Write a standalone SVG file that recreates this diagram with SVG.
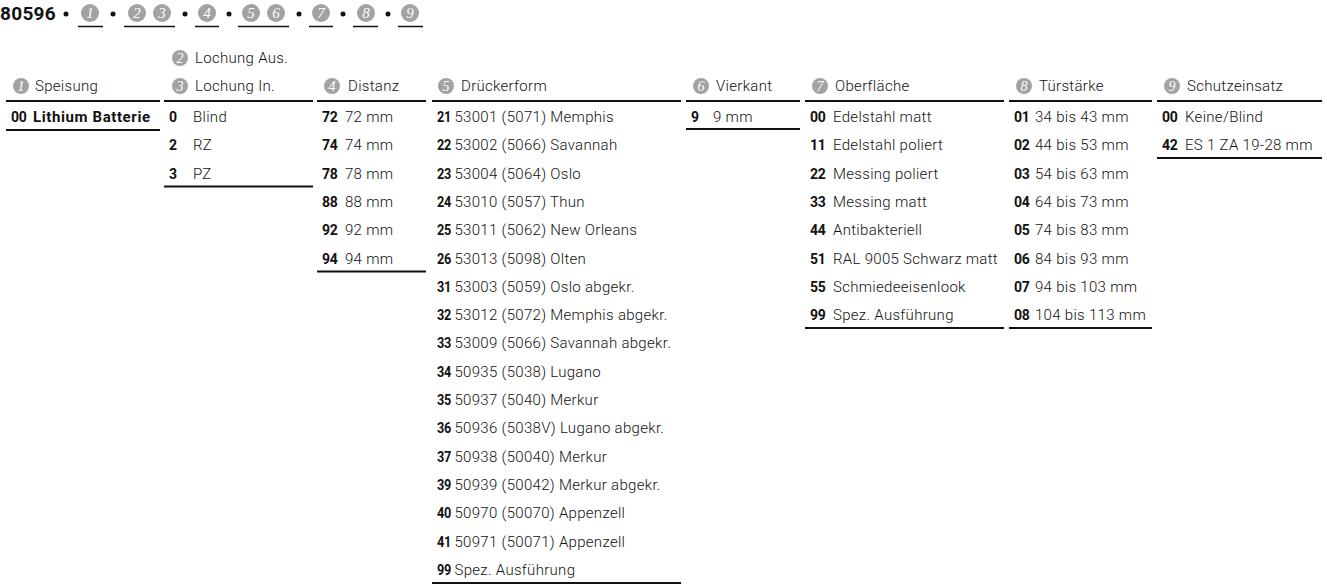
<svg xmlns="http://www.w3.org/2000/svg" width="1327" height="585" viewBox="0 0 1327 585">
<style>
text{font-family:Roboto,"Liberation Sans",sans-serif;font-size:14px;fill:#111}
.t{font-weight:300;font-size:15px;letter-spacing:0.3px}
.b{font-weight:700;letter-spacing:-0.3px}
.bl{font-weight:700;font-size:15px;letter-spacing:0.6px}
.big{font-weight:700;font-size:19px;letter-spacing:0.3px}
.c{fill:#a2a2a2}
.n{font-family:"Liberation Serif",serif;font-style:italic;font-size:14px;fill:#fff;text-anchor:middle}
.nt{font-family:"Liberation Serif",serif;font-style:italic;font-size:15px;fill:#fff;text-anchor:middle}
.r{stroke:#111;stroke-width:2;fill:none}
.u{stroke:#111;stroke-width:1.5;fill:none}
</style>
<rect width="1327" height="585" fill="#fff"/>
<g id="title">
<text class="big" x="0" y="20">80596</text>
<g class="dots">
<circle cx="66" cy="14" r="2.5" fill="#111"/><circle cx="113" cy="14" r="2.5" fill="#111"/><circle cx="185" cy="14" r="2.5" fill="#111"/><circle cx="229" cy="14" r="2.5" fill="#111"/><circle cx="299" cy="14" r="2.5" fill="#111"/><circle cx="343" cy="14" r="2.5" fill="#111"/><circle cx="388" cy="14" r="2.5" fill="#111"/>
</g>
<circle class="c" cx="90" cy="13" r="9"/><text class="nt" x="90" y="18">1</text>
<circle class="c" cx="137" cy="13" r="9"/><text class="nt" x="137" y="18">2</text>
<circle class="c" cx="162" cy="13" r="9"/><text class="nt" x="162" y="18">3</text>
<circle class="c" cx="207" cy="13" r="9"/><text class="nt" x="207" y="18">4</text>
<circle class="c" cx="251" cy="13" r="9"/><text class="nt" x="251" y="18">5</text>
<circle class="c" cx="276" cy="13" r="9"/><text class="nt" x="276" y="18">6</text>
<circle class="c" cx="321" cy="13" r="9"/><text class="nt" x="321" y="18">7</text>
<circle class="c" cx="366" cy="13" r="9"/><text class="nt" x="366" y="18">8</text>
<circle class="c" cx="410" cy="13" r="9"/><text class="nt" x="410" y="18">9</text>
<path class="u" d="M78 26.5H103M124 26.5H175M195 26.5H219M238 26.5H289M309 26.5H333M353 26.5H378M398 26.5H423"/>
</g>

<g id="col1">
<circle class="c" cx="21" cy="86" r="8"/><text class="n" x="21" y="91">1</text>
<text class="t" x="35" y="91">Speisung</text>
<path class="r" d="M6 101H160M6 130H160"/>
<text class="b" x="11" y="122">00</text><text class="bl" x="33" y="122">Lithium Batterie</text>
</g>

<g id="col2">
<circle class="c" cx="180" cy="58" r="8"/><text class="n" x="180" y="63">2</text>
<text class="t" x="195" y="63">Lochung Aus.</text>
<circle class="c" cx="180" cy="86" r="8"/><text class="n" x="180" y="91">3</text>
<text class="t" x="195" y="91">Lochung In.</text>
<path class="r" d="M164 101H313M164 186.5H313"/>
<text class="b" x="169" y="122">0</text><text class="t" x="193" y="122">Blind</text>
<text class="b" x="169" y="150.3">2</text><text class="t" x="193" y="150.3">RZ</text>
<text class="b" x="169" y="178.6">3</text><text class="t" x="193" y="178.6">PZ</text>
</g>

<g id="col3">
<circle class="c" cx="332" cy="86" r="8"/><text class="n" x="332" y="91">4</text>
<text class="t" x="348" y="91">Distanz</text>
<path class="r" d="M317 101H426M317 271.5H426"/>
<text class="b" x="322" y="122">72</text><text class="t" x="345" y="122">72 mm</text>
<text class="b" x="322" y="150.3">74</text><text class="t" x="345" y="150.3">74 mm</text>
<text class="b" x="322" y="178.6">78</text><text class="t" x="345" y="178.6">78 mm</text>
<text class="b" x="322" y="206.9">88</text><text class="t" x="345" y="206.9">88 mm</text>
<text class="b" x="322" y="235.2">92</text><text class="t" x="345" y="235.2">92 mm</text>
<text class="b" x="322" y="263.5">94</text><text class="t" x="345" y="263.5">94 mm</text>
</g>

<g id="col4">
<circle class="c" cx="446" cy="86" r="8"/><text class="n" x="446" y="91">5</text>
<text class="t" x="461" y="91">Drückerform</text>
<path class="r" d="M432 101H681M432 583H681"/>
<text class="b" x="437" y="122" textLength="14" lengthAdjust="spacingAndGlyphs">21</text><text class="t" x="454.5" y="122">53001 (5071) Memphis</text>
<text class="b" x="437" y="150.3" textLength="14" lengthAdjust="spacingAndGlyphs">22</text><text class="t" x="454.5" y="150.3">53002 (5066) Savannah</text>
<text class="b" x="437" y="178.6" textLength="14" lengthAdjust="spacingAndGlyphs">23</text><text class="t" x="454.5" y="178.6">53004 (5064) Oslo</text>
<text class="b" x="437" y="206.9" textLength="14" lengthAdjust="spacingAndGlyphs">24</text><text class="t" x="454.5" y="206.9">53010 (5057) Thun</text>
<text class="b" x="437" y="235.2" textLength="14" lengthAdjust="spacingAndGlyphs">25</text><text class="t" x="454.5" y="235.2">53011 (5062) New Orleans</text>
<text class="b" x="437" y="263.5" textLength="14" lengthAdjust="spacingAndGlyphs">26</text><text class="t" x="454.5" y="263.5">53013 (5098) Olten</text>
<text class="b" x="437" y="291.8" textLength="14" lengthAdjust="spacingAndGlyphs">31</text><text class="t" x="454.5" y="291.8">53003 (5059) Oslo abgekr.</text>
<text class="b" x="437" y="320.1" textLength="14" lengthAdjust="spacingAndGlyphs">32</text><text class="t" x="454.5" y="320.1">53012 (5072) Memphis abgekr.</text>
<text class="b" x="437" y="348.4" textLength="14" lengthAdjust="spacingAndGlyphs">33</text><text class="t" x="454.5" y="348.4">53009 (5066) Savannah abgekr.</text>
<text class="b" x="437" y="376.7" textLength="14" lengthAdjust="spacingAndGlyphs">34</text><text class="t" x="454.5" y="376.7">50935 (5038) Lugano</text>
<text class="b" x="437" y="405" textLength="14" lengthAdjust="spacingAndGlyphs">35</text><text class="t" x="454.5" y="405">50937 (5040) Merkur</text>
<text class="b" x="437" y="433.3" textLength="14" lengthAdjust="spacingAndGlyphs">36</text><text class="t" x="454.5" y="433.3">50936 (5038V) Lugano abgekr.</text>
<text class="b" x="437" y="461.6" textLength="14" lengthAdjust="spacingAndGlyphs">37</text><text class="t" x="454.5" y="461.6">50938 (50040) Merkur</text>
<text class="b" x="437" y="489.9" textLength="14" lengthAdjust="spacingAndGlyphs">39</text><text class="t" x="454.5" y="489.9">50939 (50042) Merkur abgekr.</text>
<text class="b" x="437" y="518.2" textLength="14" lengthAdjust="spacingAndGlyphs">40</text><text class="t" x="454.5" y="518.2">50970 (50070) Appenzell</text>
<text class="b" x="437" y="546.5" textLength="14" lengthAdjust="spacingAndGlyphs">41</text><text class="t" x="454.5" y="546.5">50971 (50071) Appenzell</text>
<text class="b" x="437" y="574.8" textLength="14" lengthAdjust="spacingAndGlyphs">99</text><text class="t" x="454.5" y="574.8">Spez. Ausführung</text>
</g>

<g id="col5">
<circle class="c" cx="701" cy="86" r="8"/><text class="n" x="701" y="91">6</text>
<text class="t" x="716" y="91">Vierkant</text>
<path class="r" d="M686 101H800M686 129H800"/>
<text class="b" x="691" y="122">9</text><text class="t" x="713" y="122">9 mm</text>
</g>

<g id="col6">
<circle class="c" cx="820" cy="86" r="8"/><text class="n" x="820" y="91">7</text>
<text class="t" x="835" y="91">Oberfläche</text>
<path class="r" d="M805 101H1004M805 328H1004"/>
<text class="b" x="810" y="122">00</text><text class="t" x="833" y="122">Edelstahl matt</text>
<text class="b" x="810" y="150.3">11</text><text class="t" x="833" y="150.3">Edelstahl poliert</text>
<text class="b" x="810" y="178.6">22</text><text class="t" x="833" y="178.6">Messing poliert</text>
<text class="b" x="810" y="206.9">33</text><text class="t" x="833" y="206.9">Messing matt</text>
<text class="b" x="810" y="235.2">44</text><text class="t" x="833" y="235.2">Antibakteriell</text>
<text class="b" x="810" y="263.5">51</text><text class="t" x="833" y="263.5">RAL 9005 Schwarz matt</text>
<text class="b" x="810" y="291.8">55</text><text class="t" x="833" y="291.8">Schmiedeeisenlook</text>
<text class="b" x="810" y="320.1">99</text><text class="t" x="833" y="320.1">Spez. Ausführung</text>
</g>

<g id="col7">
<circle class="c" cx="1024" cy="86" r="8"/><text class="n" x="1024" y="91">8</text>
<text class="t" x="1039" y="91">Türstärke</text>
<path class="r" d="M1009 101H1152M1009 328H1152"/>
<text class="b" x="1014" y="122">01</text><text class="t" x="1035" y="122">34 bis 43 mm</text>
<text class="b" x="1014" y="150.3">02</text><text class="t" x="1035" y="150.3">44 bis 53 mm</text>
<text class="b" x="1014" y="178.6">03</text><text class="t" x="1035" y="178.6">54 bis 63 mm</text>
<text class="b" x="1014" y="206.9">04</text><text class="t" x="1035" y="206.9">64 bis 73 mm</text>
<text class="b" x="1014" y="235.2">05</text><text class="t" x="1035" y="235.2">74 bis 83 mm</text>
<text class="b" x="1014" y="263.5">06</text><text class="t" x="1035" y="263.5">84 bis 93 mm</text>
<text class="b" x="1014" y="291.8">07</text><text class="t" x="1035" y="291.8">94 bis 103 mm</text>
<text class="b" x="1014" y="320.1">08</text><text class="t" x="1035" y="320.1">104 bis 113 mm</text>
</g>

<g id="col8">
<circle class="c" cx="1172" cy="86" r="8"/><text class="n" x="1172" y="91">9</text>
<text class="t" x="1187" y="91">Schutzeinsatz</text>
<path class="r" d="M1157 101H1322M1157 158H1322"/>
<text class="b" x="1162" y="122">00</text><text class="t" x="1185" y="122">Keine/Blind</text>
<text class="b" x="1162" y="150.3">42</text><text class="t" x="1185" y="150.3">ES 1 ZA 19-28 mm</text>
</g>
</svg>
